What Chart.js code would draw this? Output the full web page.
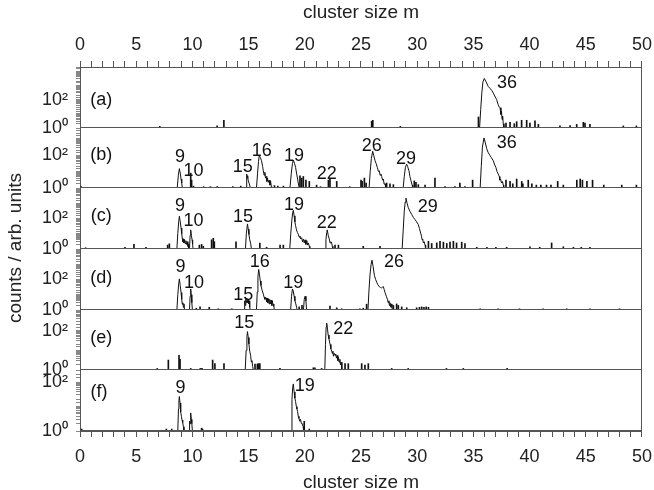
<!DOCTYPE html>
<html>
<head>
<meta charset="utf-8">
<title>Cluster size spectra</title>
<script src="https://cdn.jsdelivr.net/npm/chart.js"></script>
<style>
  body { margin: 0; background: #fff; }
  #wrap { position: relative; width: 654px; height: 490px; overflow: hidden; }
  .panel { position: absolute; left: 0; width: 654px; }
  #ytitle {
    position: absolute; left: 15px; top: 248px;
    transform: translate(-50%, -50%) rotate(-90deg);
    font: 19px 'Liberation Sans', Arial, sans-serif; color: #222; white-space: nowrap;
  }
</style>
</head>
<body>
<div id="wrap">
  <div class="panel" style="top:0;height:150px"><canvas id="pa"></canvas></div>
  <div class="panel" style="top:106px;height:104px"><canvas id="pb"></canvas></div>
  <div class="panel" style="top:166px;height:105px"><canvas id="pc"></canvas></div>
  <div class="panel" style="top:227px;height:105px"><canvas id="pd"></canvas></div>
  <div class="panel" style="top:288px;height:104px"><canvas id="pe"></canvas></div>
  <div class="panel" style="top:348px;height:146px"><canvas id="pf"></canvas></div>
  <div id="ytitle">counts / arb. units</div>
</div>

<script>
// [cluster size m, counts] - smooth peaks, drawn as a line
const peaksA = [[35.55,1],[35.65,20],[35.75,300],[35.85,1800],[35.97,3100],[36.1,2000],[36.33,830],[36.5,600],[36.63,450],[36.77,290],[36.9,180],[37.07,100],[37.2,45],[37.3,30],[37.37,27],[37.45,9],[37.5,15],[37.55,4],[37.6,7],[37.66,2],[37.72,1]];
const peaksB = [
  [8.65,1],[8.75,6],[8.84,15],[8.92,8],[8.99,3.5],[9.05,2],[9.1,1],
  [14.78,1],[14.83,7],[14.88,4],[14.92,5.5],[14.96,3],[15.0,3],[15.06,1.8],[15.12,1.8],[15.16,1],
  [15.7,1],[15.8,8],[15.88,40],[15.95,95],[16.05,70],[16.15,45],[16.25,20],[16.31,11],[16.38,6],[16.45,9],[16.5,4],[16.55,5],[16.62,2.5],[16.68,4],[16.75,2.2],[16.82,3],[16.9,1.5],[16.96,2.5],[17.02,1.2],[17.05,1],
  [18.68,1],[18.8,8],[18.9,30],[18.98,50],[19.08,32],[19.18,18],[19.28,7],[19.36,3.5],[19.45,1.5],[19.5,1],
  [25.72,1],[25.82,10],[25.92,60],[26.04,170],[26.14,90],[26.25,45],[26.35,30],[26.45,18],[26.55,10],[26.63,11],[26.7,6],[26.77,7],[26.84,5],[26.92,3],[26.99,3.5],[27.06,1.7],[27.14,1.8],[27.2,1],
  [28.75,1],[28.85,5],[28.95,18],[29.06,28],[29.15,20],[29.27,11],[29.35,5],[29.45,2.7],[29.55,1.5],[29.6,1],
  [35.6,1],[35.7,20],[35.8,300],[35.94,1100],[36.05,600],[36.18,250],[36.3,150],[36.47,95],[36.6,70],[36.77,45],[36.9,25],[37.0,18],[37.1,10],[37.21,7],[37.3,5],[37.35,3],[37.42,3.5],[37.5,2],[37.58,2.5],[37.66,1.5],[37.7,1]
];
const peaksC = [
  [8.62,1],[8.7,10],[8.78,60],[8.84,140],[8.92,60],[8.99,24],[9.05,10],[9.1,5],[9.15,3],[9.2,4.5],[9.25,2.5],[9.3,4],[9.36,2.2],[9.42,3.5],[9.48,2],[9.55,3],[9.6,1.5],[9.64,2],[9.68,1],
  [9.74,1],[9.8,8],[9.85,18],[9.91,8],[9.97,4],[10.02,2],[10.06,1],
  [14.72,1],[14.8,10],[14.9,44],[14.97,20],[15.03,9],[15.1,4],[15.18,2.4],[15.25,1],
  [18.66,1],[18.75,10],[18.85,80],[18.92,250],[18.98,340],[19.05,150],[19.12,60],[19.18,34],[19.26,18],[19.34,12],[19.42,9.5],[19.5,6],[19.57,7],[19.64,4.5],[19.72,5.5],[19.8,3],[19.88,4.5],[19.95,2.5],[20.02,4],[20.1,2],[20.18,3.5],[20.25,1.8],[20.32,2.5],[20.4,1.5],[20.45,1],
  [21.8,1],[21.88,4],[21.95,12],[22.0,18],[22.08,8],[22.18,4.5],[22.25,2.5],[22.32,3],[22.39,2.5],[22.45,1.5],[22.5,1],
  [28.66,1],[28.75,15],[28.85,300],[28.93,1200],[29.0,2150],[29.1,1000],[29.21,510],[29.35,300],[29.51,185],[29.65,120],[29.8,86],[29.95,60],[30.1,40],[30.2,22],[30.31,11],[30.38,7],[30.44,4],[30.49,4.5],[30.55,2.5],[30.62,3],[30.7,1.8],[30.75,1]
];
const peaksD = [
  [8.62,1],[8.7,10],[8.78,50],[8.84,110],[8.92,40],[8.99,14],[9.05,5],[9.1,2.4],[9.15,3],[9.2,1.5],[9.25,2.5],[9.3,1],
  [9.74,1],[9.8,8],[9.85,24],[9.9,10],[9.95,3],[10.0,1],
  [14.6,1],[14.65,4],[14.7,2],[14.75,5],[14.8,3],[14.85,5.5],[14.9,3],[14.95,5],[15.0,2.5],[15.05,4],[15.1,1.5],[15.15,1],
  [15.7,1],[15.77,15],[15.83,150],[15.9,460],[15.97,200],[16.04,80],[16.1,40],[16.2,20],[16.31,11],[16.38,7],[16.45,5],[16.5,7],[16.55,6],[16.6,3.5],[16.65,6],[16.7,3],[16.76,5.5],[16.82,2.5],[16.88,5],[16.94,2.5],[17.0,4.5],[17.06,2],[17.12,4],[17.18,1.8],[17.24,2.5],[17.28,1],
  [18.74,1],[18.82,8],[18.9,24],[18.97,18],[19.05,8],[19.12,4],[19.2,2.5],[19.27,1.5],[19.32,1],
  [19.88,1],[19.95,5],[20.03,8],[20.1,4],[20.16,1],
  [25.62,1],[25.7,15],[25.8,200],[25.9,1000],[25.98,1850],[26.08,700],[26.19,185],[26.3,100],[26.4,66],[26.5,45],[26.63,34],[26.74,30],[26.84,28],[26.92,32],[26.99,34],[27.06,22],[27.14,14],[27.25,8],[27.35,5],[27.42,3],[27.48,4],[27.53,2],[27.58,3],[27.65,1.5],[27.7,2.5],[27.75,1.5],[27.8,1]
];
const peaksE = [
  [14.7,1],[14.78,10],[14.85,50],[14.9,89],[14.97,45],[15.03,21],[15.1,9],[15.18,5.6],[15.24,2.6],[15.3,3],[15.36,1.5],[15.42,1],
  [21.78,1],[21.84,20],[21.9,150],[21.95,240],[22.02,120],[22.08,60],[22.15,38],[22.25,20],[22.32,12],[22.39,9],[22.45,7],[22.5,9],[22.55,5],[22.62,7],[22.69,5.5],[22.75,6.5],[22.82,4],[22.88,5.5],[22.94,3],[22.99,4.5],[23.05,2.5],[23.12,3.5],[23.18,1.8],[23.24,2.5],[23.3,1]
];
const peaksF = [
  [8.7,1],[8.76,8],[8.8,18],[8.84,26],[8.9,14],[8.96,6],[9.02,4],[9.08,2.8],[9.14,2.2],[9.2,1.5],[9.25,1],
  [9.7,1],[9.75,2.5],[9.8,2],[9.85,5.5],[9.9,3],[9.95,2],[10.0,1],
  [18.8,1],[18.86,20],[18.92,60],[18.98,85],[19.05,40],[19.12,22],[19.18,16],[19.25,10],[19.3,8],[19.36,6.3],[19.42,4],[19.48,3.3],[19.55,2.5],[19.62,3],[19.7,2],[19.78,2],[19.85,1.5],[19.9,1]
];

// single-channel spikes [m, counts]
const spikesA = [[7.1,1.3],[12.2,1.4],[12.8,3.5],[25.95,3],[26.05,3.5],[28.5,1.3],[35.45,6],[37.9,2.2],[38.26,2.5],[38.64,2],[38.85,2.8],[39.29,3.5],[39.74,3.5],[40.03,2.2],[40.48,3.2],[40.78,1.8],[42.7,1.4],[43.6,1.5],[44.19,1.8],[44.78,2.5],[44.93,2.2],[45.37,1.8],[48.34,1.4],[49.5,1.4]];
const spikesB = [[0.1,1.2],[9.85,8],[9.93,3],[10.1,1.3],[11.0,1.2],[11.6,1.2],[12.2,1.2],[13.6,1.2],[14.3,1.3],[17.3,1.4],[17.6,1.3],[18.1,1.3],[19.57,5.5],[19.72,4],[19.87,5],[20.1,3],[20.4,2.5],[21.05,1.5],[21.4,1.2],[22.1,3],[22.24,3.5],[22.84,2.5],[24.0,1.2],[25.0,3],[25.1,2.5],[25.3,4],[25.45,2],[27.28,2],[27.58,1.8],[27.88,1.6],[29.74,2.7],[29.89,2.2],[30.1,1.6],[30.7,1.5],[31.58,4],[32.47,1.2],[33.36,1.2],[33.8,2],[34.25,1.2],[34.93,3],[37.9,3],[38.26,2.5],[38.5,1.8],[38.85,3.5],[39.3,2.5],[39.4,1.8],[39.88,3],[40.2,1.8],[40.6,1.5],[41.0,1.5],[41.5,1.5],[41.9,1.5],[42.5,2.5],[43.0,1.5],[44.2,3],[44.5,3.5],[44.7,3],[45.1,2.5],[45.6,3],[46.6,1.5],[48.2,1.5],[49.5,1.5]];
const spikesC = [[0.5,1.2],[4.0,1.3],[4.8,2],[5.87,1.3],[7.8,1.8],[7.95,2.2],[10.62,1.8],[10.82,2],[10.97,1.5],[11.71,4],[11.86,5],[11.95,3],[13.88,3],[16.0,2.4],[16.6,1.3],[17.8,1.8],[18.09,1.8],[22.69,1.8],[22.99,1.8],[25.2,1.5],[26.69,1.5],[31.0,3.2],[31.29,2.3],[31.74,2.5],[32.03,3.2],[32.33,2.8],[32.63,2.3],[32.92,2.8],[33.22,3.2],[33.5,2.5],[33.96,2.8],[34.25,2.3],[35.3,1.3],[36.2,1.3],[37.0,1.3],[37.96,1.3],[40.03,1.4],[40.9,1.3],[41.96,2.5],[43.0,1.4],[43.9,1.3],[44.6,1.3],[45.37,1.3]];
const spikesD = [[10.35,1.3],[10.68,1.6],[11.5,1.5],[12.3,1.2],[13.5,1.2],[19.5,1.6],[19.75,2],[22.24,1.8],[22.84,1.4],[23.28,1.2],[24.9,1.2],[25.2,1.3],[25.5,2.4],[27.88,2],[28.17,2.5],[28.32,2],[28.62,1.6],[29.07,1.4],[29.95,1.4],[30.2,1.5],[30.4,1.6],[30.6,1.5],[30.8,1.6],[31.0,1.5],[35.6,1.2],[37.2,1.2],[39.1,1.2],[41.2,1.2],[43.3,1.2],[45.37,1.2],[48.0,1.2]];
const spikesE = [[6.87,1.2],[7.86,3.2],[8.81,5.6],[8.9,3.5],[9.85,1.2],[10.7,1.2],[10.85,1.2],[11.8,3.2],[12.0,2.1],[12.81,2.1],[15.57,2],[15.78,2],[15.87,2.1],[16.0,2.1],[17.79,1.2],[20.76,1.3],[20.9,1.3],[21.5,1.2],[23.58,2.1],[23.87,2.1],[25.06,2.1],[25.35,1.8],[25.65,2.1],[27.73,1.2],[29.2,1.2],[32.6,1.2],[34.1,1.2],[38.0,1.2]];
const spikesF = [[0.15,1.2],[7.68,1.2],[8.16,1.2],[10.82,1.3],[10.9,1.2],[19.95,2.5],[20.4,1.2]];

// peak annotations [m, counts, text]
const labelsA = [[1.9,100,'(a)'],[38.0,1480,'36']];
const labelsB = [[1.9,100,'(b)'],[8.9,76,'9'],[10.1,11,'10'],[14.47,20,'15'],[16.16,166,'16'],[19.04,91,'19'],[21.95,7,'22'],[25.95,363,'26'],[29.0,58,'29'],[37.96,537,'36']];
const labelsC = [[1.9,135,'(c)'],[8.9,660,'9'],[10.1,66,'10'],[14.5,123,'15'],[19.04,741,'19'],[21.95,51,'22'],[30.93,603,'29']];
const labelsD = [[1.9,117,'(d)'],[8.95,660,'9'],[10.14,56,'10'],[14.53,9.5,'15'],[16.0,1410,'16'],[18.98,56,'19'],[27.94,1410,'26']];
const labelsE = [[1.9,40,'(e)'],[14.62,240,'15'],[23.43,120,'22']];
const labelsF = [[1.7,41,'(f)'],[8.95,58,'9'],[20.0,68,'19']];

// upper limit of each panel's log axis
const yMax = [20000, 4400, 10000, 10000, 1120, 316];

const FONT = "'Liberation Sans', Arial, sans-serif";
Chart.defaults.font.family = FONT;
Chart.defaults.font.size = 18;
Chart.defaults.color = '#222';

// canvases overlap their neighbours by this much so edge labels are not clipped
const OVERLAP = 22;

function frame(labels) {
  return {
    id: 'frame',
    afterDatasetsDraw(chart) {
      const {ctx, chartArea: a, scales: {x, y}} = chart;
      ctx.save();
      ctx.strokeStyle = '#555';
      ctx.lineWidth = 1;
      ctx.beginPath();
      ctx.moveTo(a.right - 0.5, a.top);
      ctx.lineTo(a.right - 0.5, a.bottom);
      ctx.moveTo(a.left, a.bottom - 0.5);
      ctx.lineTo(a.right, a.bottom - 0.5);
      ctx.stroke();
      ctx.fillStyle = '#111';
      ctx.font = '18px ' + FONT;
      ctx.textAlign = 'center';
      ctx.textBaseline = 'middle';
      labels.forEach(([m, c, t]) => ctx.fillText(t, x.getPixelForValue(m), y.getPixelForValue(c)));
      ctx.restore();
    }
  };
}

function makePanel(id, peaks, spikes, labels, max, kind) {
  const top = kind === 'top';
  const xAxis = {
    type: 'linear', min: 0, max: 50, offset: false,
    display: kind !== 'mid',
    position: top ? 'top' : 'bottom',
    border: {color: '#555'},
    grid: {drawOnChartArea: false, offset: false, tickLength: 6, color: '#555'},
    ticks: {
      stepSize: 1, autoSkip: false, maxRotation: 0, padding: 2,
      // line height pushes the labels away from the axis without widening the side padding
      font: {lineHeight: top ? 1.55 : 2},
      callback: v => v % 5 === 0 ? String(v) : ''
    },
    title: {
      display: true, text: 'cluster size m', font: {size: 19},
      padding: {top: top ? 1 : 0, bottom: 0}
    }
  };
  if (kind !== 'mid') {
    xAxis.afterFit = s => { s.height = top ? 67 : 63; };
  }
  new Chart(document.getElementById(id), {
    type: 'line',
    data: {
      datasets: [
        {
          type: 'line',
          data: peaks.map(([m, c]) => ({x: m, y: c})),
          borderColor: '#111', borderWidth: 1, pointRadius: 0, tension: 0
        },
        {
          type: 'bar',
          data: spikes.map(([m, c]) => ({x: m, y: c})),
          backgroundColor: '#111', borderWidth: 0, barThickness: 1
        }
      ]
    },
    options: {
      responsive: true,
      maintainAspectRatio: false,
      animation: false,
      layout: {padding: {left: 0, right: 12, top: top ? 0 : OVERLAP, bottom: kind === 'bottom' ? 0 : OVERLAP}},
      plugins: {legend: {display: false}, tooltip: {enabled: false}},
      scales: {
        x: xAxis,
        y: {
          type: 'logarithmic', min: 1, max: max,
          border: {color: '#555'},
          grid: {drawOnChartArea: false, tickLength: 4, color: '#888'},
          ticks: {
            autoSkip: false, padding: 8,
            callback: v => v === 1 ? '10\u2070' : v === 100 ? '10\u00b2' : ''
          },
          afterFit: s => { s.width = 80; }
        }
      }
    },
    plugins: [frame(labels)]
  });
}

makePanel('pa', peaksA, spikesA, labelsA, yMax[0], 'top');
makePanel('pb', peaksB, spikesB, labelsB, yMax[1], 'mid');
makePanel('pc', peaksC, spikesC, labelsC, yMax[2], 'mid');
makePanel('pd', peaksD, spikesD, labelsD, yMax[3], 'mid');
makePanel('pe', peaksE, spikesE, labelsE, yMax[4], 'mid');
makePanel('pf', peaksF, spikesF, labelsF, yMax[5], 'bottom');
</script>
</body>
</html>
